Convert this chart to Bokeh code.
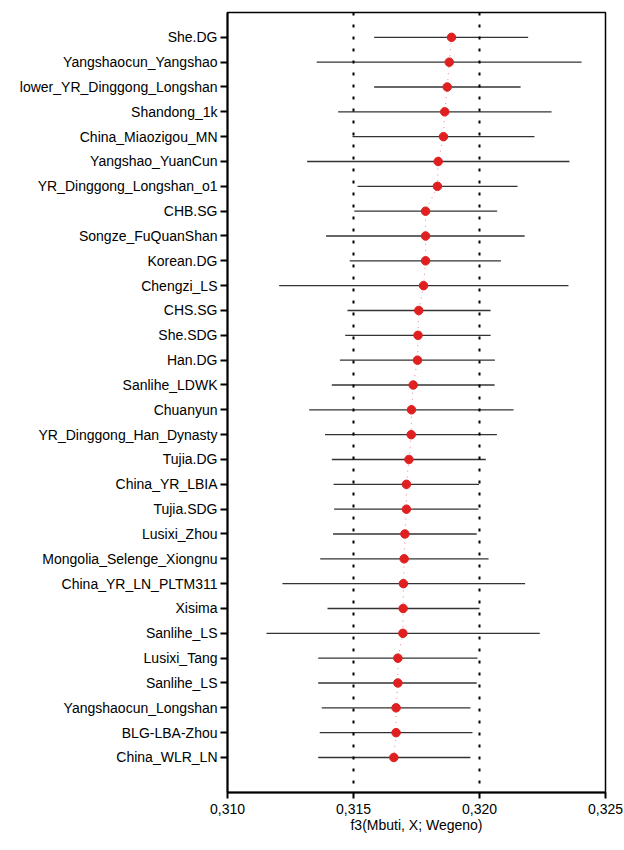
from bokeh.plotting import figure
from bokeh.models import Span, FixedTicker, CustomJSTickFormatter, Range1d
from bokeh.embed import file_html
from bokeh.resources import INLINE

# Populations, top to bottom
populations = [
    "She.DG", "Yangshaocun_Yangshao", "lower_YR_Dinggong_Longshan", "Shandong_1k",
    "China_Miaozigou_MN", "Yangshao_YuanCun", "YR_Dinggong_Longshan_o1", "CHB.SG",
    "Songze_FuQuanShan", "Korean.DG", "Chengzi_LS", "CHS.SG", "She.SDG", "Han.DG",
    "Sanlihe_LDWK", "Chuanyun", "YR_Dinggong_Han_Dynasty", "Tujia.DG", "China_YR_LBIA",
    "Tujia.SDG", "Lusixi_Zhou", "Mongolia_Selenge_Xiongnu", "China_YR_LN_PLTM311",
    "Xisima", "Sanlihe_LS", "Lusixi_Tang", "Sanlihe_LS", "Yangshaocun_Longshan",
    "BLG-LBA-Zhou", "China_WLR_LN",
]

# f3(Mbuti, X; Wegeno) estimates
f3 = [
    0.31889, 0.31880, 0.31872, 0.31862, 0.31857, 0.31836, 0.31833, 0.31786,
    0.31786, 0.31786, 0.31778, 0.31759, 0.31756, 0.31754, 0.31737, 0.31730,
    0.31729, 0.31720, 0.31710, 0.31710, 0.31704, 0.31701, 0.31698, 0.31697,
    0.31696, 0.31676, 0.31676, 0.31669, 0.31669, 0.31660,
]

# Lower and upper ends of the error bars
f3_low = [
    0.31582, 0.31354, 0.31582, 0.31439, 0.31496, 0.31316, 0.31516, 0.31503,
    0.31391, 0.31485, 0.31205, 0.31476, 0.31467, 0.31446, 0.31414, 0.31324,
    0.31387, 0.31414, 0.31421, 0.31423, 0.31419, 0.31368, 0.31218, 0.31397,
    0.31155, 0.31360, 0.31360, 0.31374, 0.31366, 0.31360,
]
f3_high = [
    0.32193, 0.32405, 0.32163, 0.32286, 0.32218, 0.32357, 0.32151, 0.32070,
    0.32179, 0.32085, 0.32353, 0.32044, 0.32044, 0.32061, 0.32060, 0.32135,
    0.32069, 0.32025, 0.31998, 0.31996, 0.31989, 0.32036, 0.32181, 0.32000,
    0.32239, 0.31992, 0.31989, 0.31964, 0.31972, 0.31964,
]

x_ticks = [0.310, 0.315, 0.320, 0.325]
ref_lines = [0.315, 0.320]

n = len(populations)
ypos = [n - 1 - i for i in range(n)]

FONT = "Liberation Sans"

p = figure(
    width=624, height=850,
    x_range=Range1d(0.310, 0.325), y_range=Range1d(-1.41, n - 1 + 1.0),
    output_backend="svg", toolbar_location=None,
    min_border_left=227, min_border_right=19, min_border_top=12, min_border_bottom=58,
)
p.grid.visible = False
p.outline_line_color = "black"
p.outline_line_width = 1.5
p.background_fill_color = "white"
p.border_fill_color = "white"

# Vertical dotted reference lines
for loc in ref_lines:
    p.add_layout(Span(location=loc, dimension="height", line_color="black",
                      line_width=2, line_dash="3 9"))

# Error bars
p.segment(x0=f3_low, x1=f3_high, y0=ypos, y1=ypos, line_color="#333333", line_width=1.3)

# Thin dotted line joining the estimates
p.line(f3, ypos, line_color="#e03030", line_alpha=0.6, line_width=1, line_dash="1 5")

# Point estimates
p.scatter(f3, ypos, size=8.5, fill_color="#e02020", line_color="#e02020")

# Axes
p.xaxis.ticker = FixedTicker(ticks=x_ticks)
p.xaxis.formatter = CustomJSTickFormatter(code="return tick.toFixed(3).replace('.', ',');")
p.xaxis.axis_label = "f3(Mbuti, X; Wegeno)"
p.xaxis.axis_label_text_font = FONT
p.xaxis.axis_label_text_font_style = "normal"
p.xaxis.axis_label_text_font_size = "14px"
p.xaxis.axis_label_text_color = "black"
p.xaxis.axis_label_standoff = 0
p.xaxis.major_label_text_font = FONT
p.xaxis.major_label_text_font_size = "14px"
p.xaxis.major_label_text_color = "black"
p.xaxis.major_label_standoff = 5
p.xaxis.minor_tick_line_color = None
p.xaxis.major_tick_out = 6
p.xaxis.major_tick_in = 0
p.xaxis.major_tick_line_width = 2
p.xaxis.axis_line_width = 2

p.yaxis.ticker = FixedTicker(ticks=ypos)
p.yaxis.major_label_overrides = {y: name for y, name in zip(ypos, populations)}
p.yaxis.major_label_text_font = FONT
p.yaxis.major_label_text_font_size = "14px"
p.yaxis.major_label_text_color = "black"
p.yaxis.major_label_standoff = 3
p.yaxis.minor_tick_line_color = None
p.yaxis.major_tick_out = 7
p.yaxis.major_tick_in = 0
p.yaxis.major_tick_line_width = 2
p.yaxis.axis_line_width = 2

open("out.html", "w").write(file_html(p, INLINE))
